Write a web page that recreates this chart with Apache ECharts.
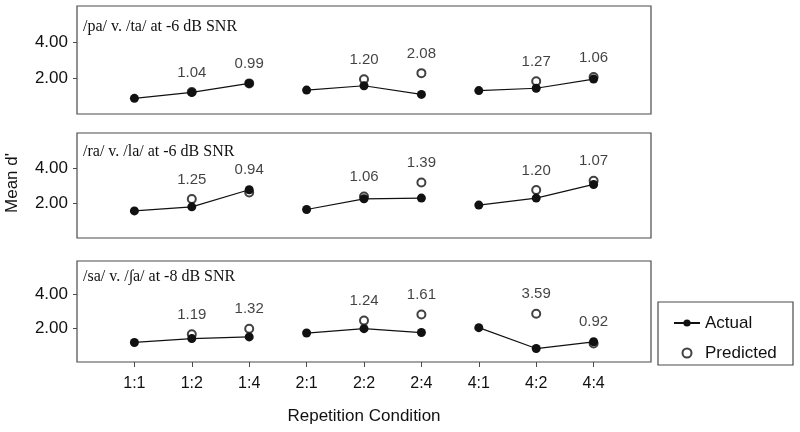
<!DOCTYPE html>
<html>
<head>
<meta charset="utf-8">
<script src="https://cdn.jsdelivr.net/npm/echarts@6/dist/echarts.min.js"></script>
<style>
  html, body { margin: 0; padding: 0; background: #fff; }
  #chart { width: 800px; height: 432px; }
</style>
</head>
<body>
<div id="chart"></div>
<script>
// categories along the x axis
const conditions = ["1:1", "1:2", "1:4", "2:1", "2:2", "2:4", "4:1", "4:2", "4:4"];
const groups = [[0, 1, 2], [3, 4, 5], [6, 7, 8]];

const panelTitles = [
  "/pa/ v. /ta/ at -6 dB SNR",
  "/ra/ v. /la/ at -6 dB SNR",
  "/sa/ v. /\u222Ba/ at -8 dB SNR"
];

// panel 1: /pa/ v. /ta/
const actualPaTa = [0.87, 1.2, 1.7, 1.33, 1.57, 1.09, 1.3, 1.43, 1.94];
const predictedPaTa = [null, 1.22, 1.7, null, 1.93, 2.27, null, 1.82, 2.06];
const ratioPaTa = [null, "1.04", "0.99", null, "1.20", "2.08", null, "1.27", "1.06"];

// panel 2: /ra/ v. /la/
const actualRaLa = [1.55, 1.78, 2.76, 1.63, 2.24, 2.28, 1.88, 2.28, 3.06];
const predictedRaLa = [null, 2.23, 2.6, null, 2.37, 3.17, null, 2.74, 3.27];
const ratioRaLa = [null, "1.25", "0.94", null, "1.06", "1.39", null, "1.20", "1.07"];

// panel 3: /sa/ v. /sha/
const actualSaSha = [1.16, 1.39, 1.49, 1.72, 1.98, 1.75, 2.04, 0.8, 1.2];
const predictedSaSha = [null, 1.65, 1.97, null, 2.46, 2.82, null, 2.87, 1.1];
const ratioSaSha = [null, "1.19", "1.32", null, "1.24", "1.61", null, "3.59", "0.92"];

const yTicks = [2, 4];

const panels = [
  { actual: actualPaTa, predicted: predictedPaTa, ratio: ratioPaTa },
  { actual: actualRaLa, predicted: predictedRaLa, ratio: ratioRaLa },
  { actual: actualSaSha, predicted: predictedSaSha, ratio: ratioSaSha }
];

const gridBoxes = [
  { top: 6, height: 108 },
  { top: 133, height: 105 },
  { top: 261, height: 101 }
];

const chart = echarts.init(document.getElementById("chart"));

const grid = [], xAxis = [], yAxis = [], series = [], graphic = [];

panels.forEach(function (p, i) {
  const last = i === panels.length - 1;
  grid.push({
    left: 77, width: 574, top: gridBoxes[i].top, height: gridBoxes[i].height,
    show: true, borderColor: "#4a4a4a", borderWidth: 1.2, backgroundColor: "transparent"
  });
  xAxis.push({
    type: "value", gridIndex: i, min: 0, max: 10, interval: 1,
    axisLine: { show: false },
    splitLine: { show: false },
    axisTick: {
      show: last, length: 5, customValues: [1, 2, 3, 4, 5, 6, 7, 8, 9],
      lineStyle: { color: "#4a4a4a" }
    },
    axisLabel: {
      show: last, margin: 14, customValues: [1, 2, 3, 4, 5, 6, 7, 8, 9],
      fontFamily: "Liberation Sans", fontSize: 16, color: "#111",
      formatter: function (v) { return conditions[Math.round(v) - 1] || ""; }
    },
    name: last ? "Repetition Condition" : "",
    nameLocation: "middle", nameGap: 46,
    nameTextStyle: { fontFamily: "Liberation Sans", fontSize: 17, color: "#111" }
  });
  yAxis.push({
    type: "value", gridIndex: i, min: 0, max: 6, interval: 2,
    axisLine: { show: false },
    splitLine: { show: false },
    axisTick: { show: true, length: 4, customValues: yTicks, lineStyle: { color: "#4a4a4a" } },
    axisLabel: {
      customValues: yTicks, margin: 9,
      fontFamily: "Liberation Sans", fontSize: 17, color: "#111",
      formatter: function (v) { return (v === 2 || v === 4) ? v.toFixed(2) : ""; }
    }
  });

  // actual: one connected line per repetition group
  groups.forEach(function (g) {
    series.push({
      name: "Actual", type: "line", xAxisIndex: i, yAxisIndex: i,
      data: g.map(function (k) { return [k + 1, p.actual[k]]; }),
      symbol: "circle", symbolSize: 9, z: 5,
      lineStyle: { color: "#111", width: 1.2 },
      itemStyle: { color: "#111" },
      animation: false
    });
  });

  // predicted open circles
  series.push({
    name: "Predicted", type: "scatter", xAxisIndex: i, yAxisIndex: i,
    data: p.predicted.map(function (v, k) { return v == null ? null : [k + 1, v]; }).filter(Boolean),
    symbol: "emptyCircle", symbolSize: 8, z: 4,
    itemStyle: { color: "#111", borderWidth: 1.3 },
    animation: false
  });

  // ratio labels above the higher of the two points
  series.push({
    name: "ratio", type: "scatter", xAxisIndex: i, yAxisIndex: i,
    data: p.ratio.map(function (r, k) {
      if (r == null) return null;
      return { value: [k + 1, Math.max(p.actual[k], p.predicted[k])], text: r };
    }).filter(Boolean),
    symbolSize: 0, silent: true,
    label: {
      show: true, position: "top", distance: 12,
      fontFamily: "Liberation Sans", fontSize: 15, color: "#111",
      formatter: function (d) { return d.data.text; }
    },
    animation: false
  });

  graphic.push({
    type: "text", left: 83, top: gridBoxes[i].top + [13, 11, 8][i],
    style: { text: panelTitles[i], font: "16px 'Liberation Serif'", fill: "#111" }
  });
});

// y axis title
graphic.push({
  type: "text", x: 12, y: 183, rotation: Math.PI / 2,
  style: { text: "Mean d'", font: "17px 'Liberation Sans'", fill: "#111", align: "center", verticalAlign: "middle" }
});

// legend frame
graphic.push({
  type: "rect", shape: { x: 658, y: 302, width: 135, height: 63 },
  style: { fill: "none", stroke: "#4a4a4a", lineWidth: 1.2 }
});

chart.setOption({
  animation: false,
  grid: grid,
  xAxis: xAxis,
  yAxis: yAxis,
  series: series,
  graphic: graphic,
  legend: {
    data: ["Actual", "Predicted"],
    left: 668, top: 308, orient: "vertical",
    itemWidth: 26, itemHeight: 9, itemGap: 10,
    textStyle: { fontFamily: "Liberation Sans", fontSize: 17, color: "#111", lineHeight: 20 }
  }
});
</script>
</body>
</html>
